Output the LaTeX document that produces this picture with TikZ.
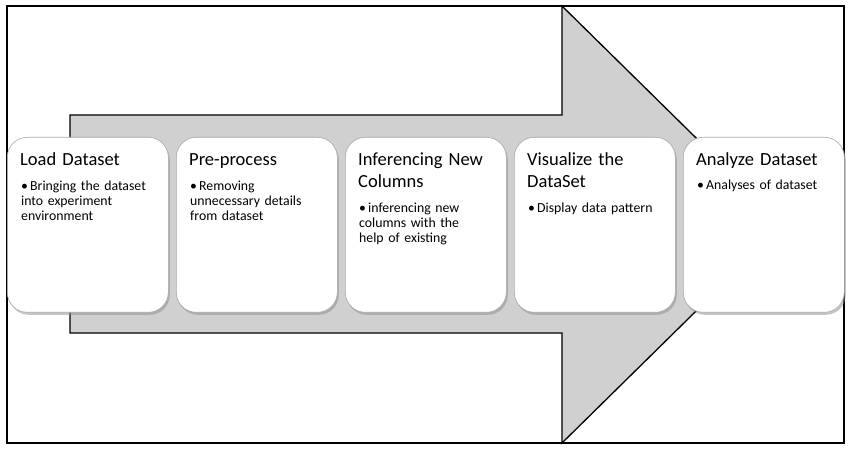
\documentclass[tikz,border=0pt]{standalone}
\usepackage{fontspec}
\setmainfont{Carlito}
\usetikzlibrary{shadows}
\definecolor{arrowgray}{RGB}{208,208,208}
\definecolor{boxedge}{RGB}{170,170,170}
\newcommand{\ttlfont}{\fontsize{18.5}{22}\selectfont}
\newcommand{\bdyfont}{\fontsize{13.8}{15}\selectfont}
\newcommand{\bul}{\hangindent=9pt\hangafter=1\noindent\makebox[9pt][l]{•}}
\tikzset{
  frame/.style={draw=black, line width=1.5pt},
  bigarrow/.style={draw=black, line width=1.3pt, fill=arrowgray, line join=miter},
  stepbox/.style={draw=boxedge, line width=0.6pt, fill=white, rounded corners=20pt,
    minimum width=161pt, minimum height=175pt, inner sep=0pt, anchor=north west,
    drop shadow={shadow xshift=1.5pt, shadow yshift=-2.5pt, fill=black!45}},
  ttl/.style={anchor=base west, align=left, text width=150pt, inner sep=0pt, font=\ttlfont},
  bdy/.style={anchor=base west, align=left, text width=145pt, inner sep=0pt, font=\bdyfont}
}
\begin{document}
\begin{tikzpicture}[x=1pt,y=-1pt]
\useasboundingbox (0,0) rectangle (852,457);
\draw[frame] (7,6) rectangle (844,443);
\draw[bigarrow] (70,115) -- (562,115) -- (562,6) -- (784,224.5) -- (562,443) -- (562,333) -- (70,333) -- cycle;

\node[stepbox] (b1) at (7,137) {};
\node[stepbox] (b2) at (176,137) {};
\node[stepbox] (b3) at (345,137) {};
\node[stepbox] (b4) at (514,137) {};
\node[stepbox] (b5) at (683,137) {};

\node[ttl] (t1) at (20,166) {Load Dataset};
\node[bdy] (d1) at (21,191) {\bul Bringing the dataset\\into experiment\\environment};

\node[ttl] (t2) at (189,166) {Pre-process};
\node[bdy] (d2) at (190,191) {\bul Removing\\unnecessary details\\from dataset};

\node[ttl] (t3) at (358,166) {Inferencing New\\Columns};
\node[bdy] (d3) at (359,213) {\bul inferencing new\\columns with the\\help of existing};

\node[ttl] (t4) at (527,166) {Visualize the\\DataSet};
\node[bdy] (d4) at (528,213) {\bul Display data pattern};

\node[ttl] (t5) at (696,166) {Analyze Dataset};
\node[bdy] (d5) at (697,190) {\bul Analyses of dataset};
\end{tikzpicture}
\end{document}
